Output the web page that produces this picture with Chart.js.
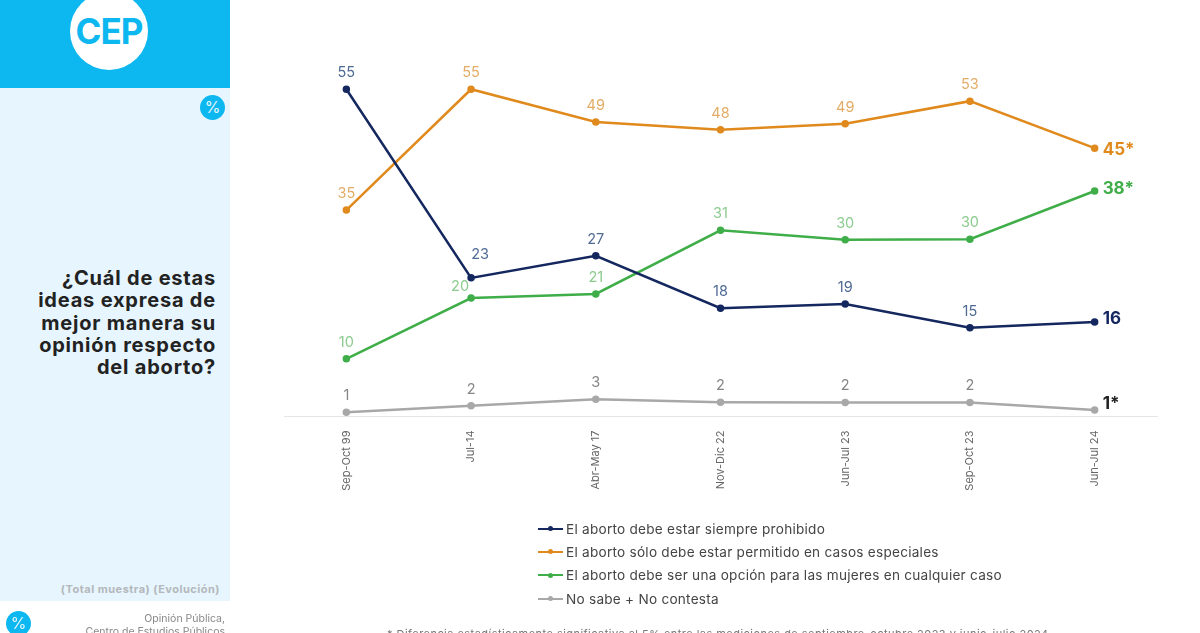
<!DOCTYPE html>
<html lang="es">
<head>
<meta charset="utf-8">
<title>Opinión respecto del aborto</title>
<script src="https://cdn.jsdelivr.net/npm/chart.js@4"></script>
<style>
    html, body { margin: 0; padding: 0; background: #fff; }
    body { width: 1200px; height: 633px; overflow: hidden; position: relative; font-family: Inter, sans-serif; }
    #chartBox { position: absolute; left: 0; top: 0; width: 1200px; height: 633px; }
    .abs { position: absolute; }
    #band { left: 0; top: 0; width: 230px; height: 88px; background: #0db8f0; }
    #side { left: 0; top: 88px; width: 230px; height: 513px; background: #e6f5fe; }
    #logo { left: 70px; top: -8px; width: 78px; height: 78px; border-radius: 50%; background: #fff; color: #0db8f0;
        font-size: 35px; font-weight: 700; line-height: 78px; text-align: center; letter-spacing: -1px; }
    .badge { width: 25px; height: 25px; border-radius: 50%; background: #0db8f0; color: #e6f5fe;
        font-size: 16px; line-height: 25px; text-align: center; }
    #question { right: 984px; top: 267px; text-align: right; font-size: 20px; line-height: 22.3px;
        font-weight: 700; color: #222; letter-spacing: 0.8px; white-space: nowrap; }
    #sample { right: 980px; top: 582px; font-size: 11px; font-weight: 700; color: #b4b8bb; white-space: nowrap; letter-spacing: 0.5px; }
    #source { right: 975px; top: 612px; text-align: right; font-size: 10.5px; line-height: 13px; color: #888; white-space: nowrap; }
    #note { left: 387px; top: 627px; font-size: 11px; color: #777; white-space: nowrap; letter-spacing: 0.46px; }
    #legend { left: 538px; top: 517px; font-size: 13.6px; color: #444; letter-spacing: 0.25px; }
    .legendRow { display: flex; align-items: center; height: 23.3px; white-space: nowrap; }
    .legendKey { position: relative; width: 25px; height: 2px; margin-right: 3px; }
    .legendKey i { position: absolute; left: 10px; top: -1.5px; width: 5px; height: 5px; border-radius: 50%; background: inherit; }
</style>
</head>
<body>
<div id="chartBox"><canvas id="opinionChart"></canvas></div>
<div class="abs" id="band"></div>
<div class="abs" id="side"></div>
<div class="abs" id="logo">CEP</div>
<div class="abs badge" style="left:200px;top:95px">%</div>
<div class="abs" id="question">¿Cuál de estas<br>ideas expresa de<br>mejor manera su<br>opinión respecto<br>del aborto?</div>
<div class="abs" id="sample">(Total muestra) (Evolución)</div>
<div class="abs badge" style="left:6px;top:611px">%</div>
<div class="abs" id="source">Opinión Pública,<br>Centro de Estudios Públicos</div>
<div class="abs" id="legend"></div>
<div class="abs" id="note">* Diferencia estadísticamente significativa al 5% entre las mediciones de septiembre-octubre 2023 y junio-julio 2024</div>
<script>
const periods = ['Sep-Oct 99', 'Jul-14', 'Abr-May 17', 'Nov-Dic 22', 'Jun-Jul 23', 'Sep-Oct 23', 'Jun-Jul 24'];

// plotted heights, the printed labels are rounded
const prohibido = [55, 23.3, 27, 18.2, 18.9, 14.9, 15.9];
const especiales = [34.7, 55, 49.5, 48.2, 49.2, 53, 45.1];
const cualquierCaso = [9.7, 19.9, 20.6, 31.3, 29.7, 29.8, 37.9];
const noSabe = [0.7, 1.8, 2.9, 2.4, 2.35, 2.35, 1.1];

const prohibidoLabels = ['55', '23', '27', '18', '19', '15', '16'];
const especialesLabels = ['35', '55', '49', '48', '49', '53', '45*'];
const cualquierCasoLabels = ['10', '20', '21', '31', '30', '30', '38*'];
const noSabeLabels = ['1', '2', '3', '2', '2', '2', '1*'];

const series = [
    { name: 'El aborto debe estar siempre prohibido', data: prohibido, labels: prohibidoLabels,
      color: '#14275f', labelColor: '#4f6a94', lastColor: '#14275f', lastShift: -3, nudge: { 1: [9, -7] } },
    { name: 'El aborto sólo debe estar permitido en casos especiales', data: especiales, labels: especialesLabels,
      color: '#e08a1e', labelColor: '#e3ac66', lastColor: '#e08a1e', lastShift: 2, nudge: {} },
    { name: 'El aborto debe ser una opción para las mujeres en cualquier caso', data: cualquierCaso, labels: cualquierCasoLabels,
      color: '#3fae49', labelColor: '#8ccb8e', lastColor: '#3fae49', lastShift: -2, nudge: { 1: [-11, 5] } },
    { name: 'No sabe + No contesta', data: noSabe, labels: noSabeLabels,
      color: '#a8a8a8', labelColor: '#858585', lastColor: '#222222', lastShift: -6, nudge: {} }
];

const pointLabels = {
    id: 'pointLabels',
    afterDatasetsDraw(chart) {
        const { ctx } = chart;
        ctx.save();
        series.forEach((s, i) => {
            chart.getDatasetMeta(i).data.forEach((point, j) => {
                if (j === s.labels.length - 1) {
                    ctx.font = '700 17px Inter, sans-serif';
                    ctx.fillStyle = s.lastColor;
                    ctx.textAlign = 'left';
                    ctx.textBaseline = 'middle';
                    ctx.fillText(s.labels[j], point.x + 8, point.y + s.lastShift);
                    return;
                }
                const nudge = s.nudge[j] || [0, 0];
                ctx.font = '14.5px Inter, sans-serif';
                ctx.fillStyle = s.labelColor;
                ctx.textAlign = 'center';
                ctx.textBaseline = 'middle';
                ctx.fillText(s.labels[j], point.x + nudge[0], point.y - 16.5 + nudge[1]);
            });
        });
        ctx.restore();
    }
};

const ctx = document.getElementById('opinionChart').getContext('2d');
const opinionChart = new Chart(ctx, {
    type: 'line',
    data: {
        labels: periods,
        datasets: series.map((s) => ({
            label: s.name,
            data: s.data,
            borderColor: s.color,
            backgroundColor: s.color,
            borderWidth: 2.5,
            pointRadius: 2.5,
            tension: 0
        }))
    },
    options: {
        responsive: true,
        maintainAspectRatio: false,
        animation: false,
        layout: { padding: { left: 284, right: 43, top: 59.5, bottom: 0 } },
        plugins: {
            legend: { display: false },
            tooltip: { enabled: false }
        },
        scales: {
            x: {
                offset: true,
                grid: { display: false },
                border: { color: '#e6e6e6' },
                afterFit: (scale) => { scale.height = 216.5; },
                ticks: {
                    minRotation: 90,
                    maxRotation: 90,
                    padding: 6,
                    color: '#666',
                    font: { family: 'Inter, sans-serif', size: 11 }
                }
            },
            y: {
                display: false,
                min: 0,
                max: 60
            }
        }
    },
    plugins: [pointLabels]
});

const legend = document.getElementById('legend');
series.forEach((s) => {
    const row = document.createElement('div');
    row.className = 'legendRow';
    const key = document.createElement('span');
    key.className = 'legendKey';
    key.style.background = s.color;
    key.appendChild(document.createElement('i'));
    row.appendChild(key);
    row.appendChild(document.createTextNode(s.name));
    legend.appendChild(row);
});
</script>
</body>
</html>
